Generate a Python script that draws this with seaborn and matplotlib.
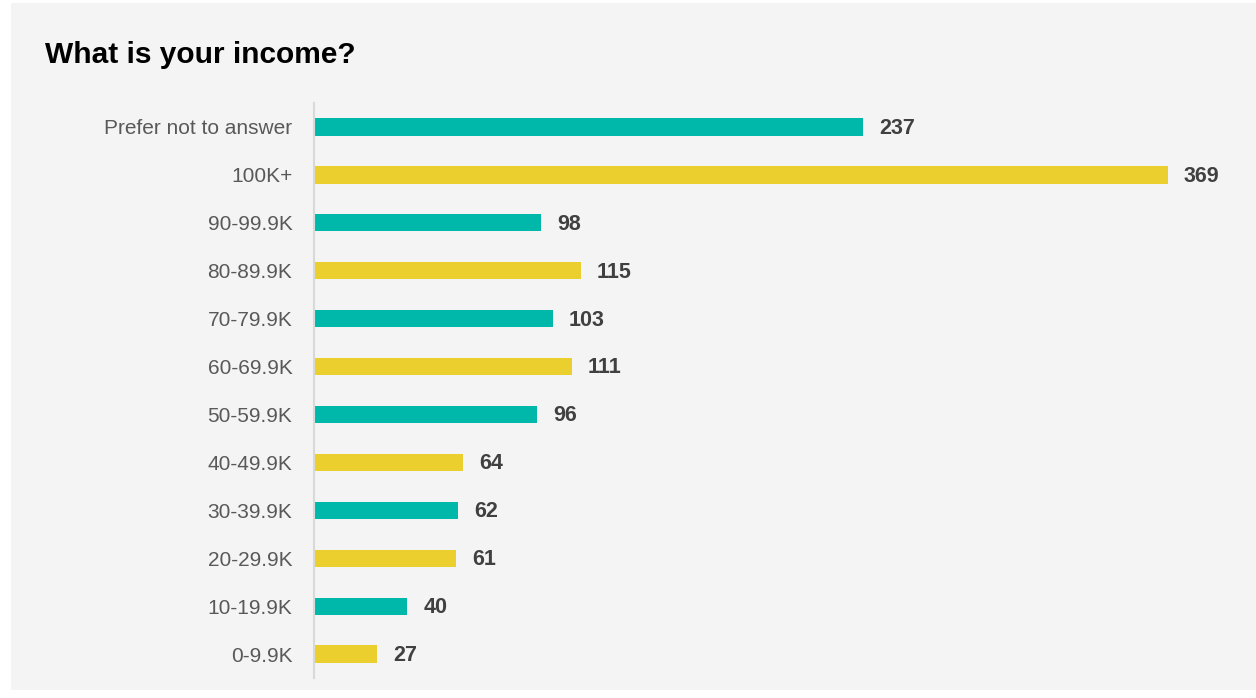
import matplotlib
matplotlib.use("Agg")
import matplotlib.pyplot as plt
import seaborn as sns
import pandas as pd
from matplotlib.patches import Rectangle

categories = ["Prefer not to answer", "100K+", "90-99.9K", "80-89.9K", "70-79.9K",
              "60-69.9K", "50-59.9K", "40-49.9K", "30-39.9K", "20-29.9K",
              "10-19.9K", "0-9.9K"]
counts = [237, 369, 98, 115, 103, 111, 96, 64, 62, 61, 40, 27]
title = "What is your income?"

teal = "#00B8A9"
yellow = "#EACF2F"
bar_colors = [teal if i % 2 == 0 else yellow for i in range(len(categories))]

df = pd.DataFrame({"category": categories, "count": counts})

sns.set_theme(style="white")
plt.rcParams["font.family"] = ["Liberation Sans", "DejaVu Sans"]

W, H = 1256, 698
fig = plt.figure(figsize=(W / 100, H / 100), dpi=100, facecolor="white")
# gray panel
fig.patches.append(Rectangle((11 / W, (H - 690) / H), (W - 11) / W, (690 - 3) / H,
                             transform=fig.transFigure, facecolor="#F4F4F4",
                             edgecolor="none", zorder=-10))

ax = fig.add_axes([314 / W, (H - 678) / H, (1240 - 314) / W, (678 - 103) / H])
ax.set_facecolor("none")
ax.set_zorder(1)

sns.barplot(data=df, x="count", y="category", hue="category", palette=bar_colors,
            order=categories, width=0.36, legend=False, ax=ax, saturation=1,
            linewidth=0)

ax.set_xlim(-0.4, (1240 - 315) / ((1168 - 315) / 369))
ax.set_ylim(11.5, -0.5)
for s in ["top", "right", "bottom"]:
    ax.spines[s].set_visible(False)
ax.spines["left"].set_color("#D9D9D9")
ax.spines["left"].set_linewidth(1.5)
ax.set_xticks([])
ax.set_xlabel("")
ax.set_ylabel("")
ax.tick_params(axis="y", length=0, pad=15.5, labelsize=15, labelcolor="#595959")

for i, v in enumerate(counts):
    ax.annotate(str(v), xy=(v, i), xytext=(11.5, -1), textcoords="offset points",
                ha="left", va="center", fontsize=15.5, fontweight="bold", color="#404040")

fig.text(45 / W, (H - 55) / H, title, fontsize=21.5, fontweight="bold",
         color="#000000", ha="left", va="center")

fig.savefig("out.png", dpi=100, facecolor=fig.get_facecolor())
